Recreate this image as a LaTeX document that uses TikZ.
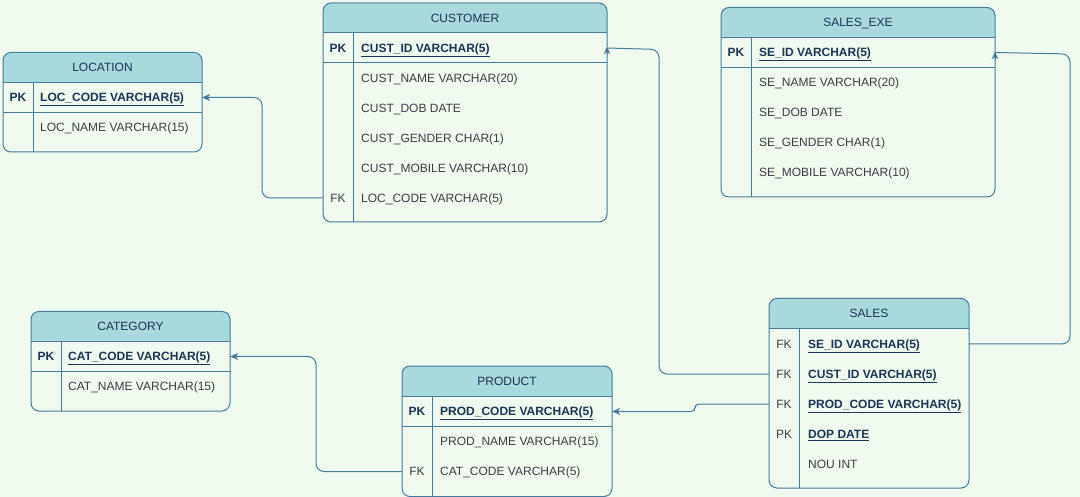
\documentclass[tikz,border=0pt]{standalone}
\usepackage{fontspec}
\setmainfont{Liberation Sans}
\usetikzlibrary{arrows.meta,calc}
\definecolor{bg}{HTML}{F1FAEE}
\definecolor{hdr}{HTML}{A8DADC}
\definecolor{strk}{HTML}{457B9D}
\definecolor{navy}{HTML}{1D3557}
\definecolor{txt}{HTML}{3A3F47}
\newcommand\ertbl[8]{%
  \fill[bg, rounded corners=8pt] (#2,#3) rectangle (#4,#5);
  \begin{scope}
    \clip[rounded corners=8pt] (#2,#3) rectangle (#4,#5);
    \fill[hdr] (#2,#3) rectangle (#4,#6);
  \end{scope}
  \draw[divline] (#2,#6) -- (#4,#6);
  \draw[divline] (#7,#6) -- (#7,#5);
  \node[tblout, minimum width={(#4-#2)*1pt}, minimum height={(#5-#3)*1pt}] (#1) at (#2,#3) {};
  \node[ttl] (#1-title) at ({(#2+#4)/2},{(#3+#6)/2}) {#8};
}
\tikzset{
  tblout/.style={draw=strk, line width=1pt, rounded corners=8pt, inner sep=0pt, outer sep=0pt, anchor=north west},
  ttl/.style={font=\fontsize{12}{14}\selectfont, text=navy, inner sep=0pt, text height=8.6pt, text depth=0pt},
  rowtxt/.style={font=\fontsize{12}{14}\selectfont, text=txt, inner sep=0pt, anchor=west, text height=8.6pt, text depth=0pt},
  keyrow/.style={rowtxt, font=\fontsize{12}{14}\selectfont\bfseries, text=navy},
  keylbl/.style={font=\fontsize{12}{14}\selectfont, text=txt, inner sep=0pt, text height=8.6pt, text depth=0pt},
  keylblb/.style={keylbl, font=\fontsize{12}{14}\selectfont\bfseries, text=navy},
  divline/.style={draw=strk, line width=1pt},
  conn/.style={draw=strk, line width=1pt, rounded corners=8pt},
  tip/.style={-{Stealth[length=8pt,width=7pt,inset=2pt]}},
  tiponly/.style={draw=strk, line width=1pt, -{Stealth[length=7pt,width=6.5pt,inset=2pt]}}
}
\begin{document}
\begin{tikzpicture}[x=1pt,y=-1pt]
\useasboundingbox (0,0) rectangle (1080,497);
\fill[bg] (0,0) rectangle (1080,497);

% LOCATION
\ertbl{loc}{3}{52.5}{202}{152}{82.5}{33}{LOCATION}
\draw[divline] (3,112.5) -- (202,112.5);
\node[keylblb] (loc-k1) at (18,97.5) {PK};
\node[keyrow] (loc-r1) at (40,97.5) {\underline{LOC\_CODE VARCHAR(5)}};
\node[rowtxt] (loc-r2) at (40,127.5) {LOC\_NAME VARCHAR(15)};

% CUSTOMER
\ertbl{cust}{323}{3}{607}{222}{33}{353}{CUSTOMER}
\draw[divline] (323,63) -- (607,63);
\node[keylblb] (cust-k1) at (338,48) {PK};
\node[keyrow] (cust-r1) at (361,48) {\underline{CUST\_ID VARCHAR(5)}};
\node[rowtxt] (cust-r2) at (361,78) {CUST\_NAME VARCHAR(20)};
\node[rowtxt] (cust-r3) at (361,108) {CUST\_DOB DATE};
\node[rowtxt] (cust-r4) at (361,138) {CUST\_GENDER CHAR(1)};
\node[rowtxt] (cust-r5) at (361,168) {CUST\_MOBILE VARCHAR(10)};
\node[keylbl] (cust-k6) at (338,198) {FK};
\node[rowtxt] (cust-r6) at (361,198) {LOC\_CODE VARCHAR(5)};

% SALES_EXE
\ertbl{se}{721}{7.5}{995}{197}{37.5}{751}{SALES\_EXE}
\draw[divline] (721,67.5) -- (995,67.5);
\node[keylblb] (se-k1) at (736,52.5) {PK};
\node[keyrow] (se-r1) at (759,52.5) {\underline{SE\_ID VARCHAR(5)}};
\node[rowtxt] (se-r2) at (759,82.5) {SE\_NAME VARCHAR(20)};
\node[rowtxt] (se-r3) at (759,112.5) {SE\_DOB DATE};
\node[rowtxt] (se-r4) at (759,142.5) {SE\_GENDER CHAR(1)};
\node[rowtxt] (se-r5) at (759,172.5) {SE\_MOBILE VARCHAR(10)};

% SALES
\ertbl{sales}{769}{298.5}{969}{488}{328.5}{799}{SALES}
\node[keylbl] (sales-k1) at (784,344) {FK};
\node[keyrow] (sales-r1) at (808,344) {\underline{SE\_ID VARCHAR(5)}};
\node[keylbl] (sales-k2) at (784,374) {FK};
\node[keyrow] (sales-r2) at (808,374) {\underline{CUST\_ID VARCHAR(5)}};
\node[keylbl] (sales-k3) at (784,404) {FK};
\node[keyrow] (sales-r3) at (808,404) {\underline{PROD\_CODE VARCHAR(5)}};
\node[keylbl] (sales-k4) at (784,434) {PK};
\node[keyrow] (sales-r4) at (808,434) {\underline{DOP DATE}};
\node[rowtxt] (sales-r5) at (808,464) {NOU INT};

% PRODUCT
\ertbl{prod}{402}{366}{612}{496.5}{396.5}{432}{PRODUCT}
\draw[divline] (402,426.5) -- (612,426.5);
\node[keylblb] (prod-k1) at (417,411.5) {PK};
\node[keyrow] (prod-r1) at (440,411.5) {\underline{PROD\_CODE VARCHAR(5)}};
\node[rowtxt] (prod-r2) at (440,441.5) {PROD\_NAME VARCHAR(15)};
\node[keylbl] (prod-k3) at (417,471.5) {FK};
\node[rowtxt] (prod-r3) at (440,471.5) {CAT\_CODE VARCHAR(5)};

% CATEGORY
\ertbl{cat}{31}{311.5}{230}{411}{341.5}{61}{CATEGORY}
\draw[divline] (31,371) -- (230,371);
\node[keylblb] (cat-k1) at (46,356.5) {PK};
\node[keyrow] (cat-r1) at (68,356.5) {\underline{CAT\_CODE VARCHAR(5)}};
\node[rowtxt] (cat-r2) at (68,386.5) {CAT\_NAME VARCHAR(15)};

% connectors
\draw[conn, tip] (cust.west |- cust-r6) -- (262,198) -- (262,97.5) -- (loc.east |- loc-r1);
\draw[conn] (sales.west |- sales-r2) -- (659,374) -- (659,49.5) -- (cust.east |- cust-r1);
\draw[tiponly] ([yshift=-7pt]cust.east |- cust-r1) -- ([yshift=1pt]cust.east |- cust-r1);
\draw[conn] (sales.east |- sales-r1) -- (1070,344) -- (1070,54) -- (se.east |- se-r1);
\draw[tiponly] ([yshift=-7.5pt]se.east |- se-r1) -- ([yshift=0.5pt]se.east |- se-r1);
\draw[conn, rounded corners=4pt, tip] (sales.west |- sales-r3) -- (695,404) -- (695,411.5) -- (prod.east |- prod-r1);
\draw[conn, tip] (prod.west |- prod-r3) -- (316,471.5) -- (316,356.5) -- (cat.east |- cat-r1);
\end{tikzpicture}
\end{document}
